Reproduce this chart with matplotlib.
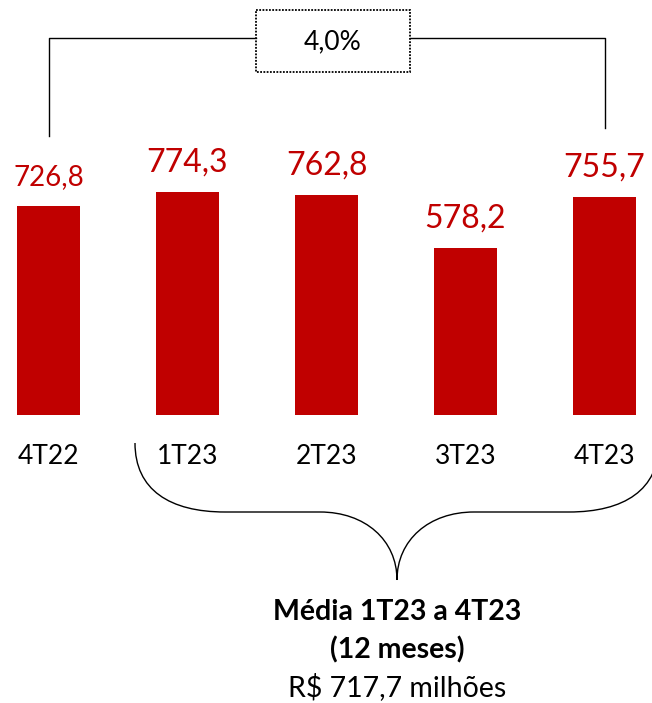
import numpy as np
import matplotlib
matplotlib.use("Agg")
from matplotlib import pyplot as plt
from matplotlib.path import Path
from matplotlib.patches import PathPatch, Rectangle
from matplotlib.transforms import blended_transform_factory

plt.rcParams['font.family'] = ['Lato', 'DejaVu Sans']

# data
categories = ['4T22', '1T23', '2T23', '3T23', '4T23']
values = [726.8, 774.3, 762.8, 578.2, 755.7]
value_labels = ['726,8', '774,3', '762,8', '578,2', '755,7']
growth_label = '4,0%'
note_lines = ['Média 1T23 a 4T23', '(12 meses)', 'R$ 717,7 milhões']

RED = '#C00000'
W, H = 652, 703
fig = plt.figure(figsize=(W / 100, H / 100), dpi=100)

# bar axes: x unit = 139 px, first bar centre at 48.5 px; baseline at 415 px from top
step = 139.0
x0 = 48.5
base = 415
ppu = 0.288  # pixels per value unit
ax = fig.add_axes([0, (H - base) / H, 1, base / H])
ax.set_xlim(-x0 / step, (W - x0) / step)
ax.set_ylim(0, base / ppu)
ax.axis('off')

xs = np.arange(len(categories))
ax.bar(xs, values, width=0.45, color=RED)

sizes = [20, 23, 23, 23, 23]
for x, v, lab, fs in zip(xs, values, value_labels, sizes):
    ax.annotate(lab, (x, v), xytext=(0, 15), textcoords='offset points',
                ha='center', va='baseline', color=RED, fontsize=fs)

# overlay in pixel coordinates
ov = fig.add_axes([0, 0, 1, 1], zorder=5)
ov.set_xlim(0, W)
ov.set_ylim(H, 0)
ov.axis('off')
ov.patch.set_visible(False)

tr = blended_transform_factory(ax.transData, ov.transData)
for x, c in zip(xs, categories):
    ov.text(x, 456, c, transform=tr, ha='center', va='center', fontsize=19, color='black')

# growth bracket
lx = x0
rx = x0 + 4 * step
ov.plot([lx, lx, 256], [136, 38, 38], color='black', lw=1)
ov.plot([410, rx, rx], [38, 38, 128], color='black', lw=1)
ov.add_patch(Rectangle((256, 10), 154, 62, fill=False, ec='black', lw=1.3, ls=(0, (1, 0.8))))
ov.text(333, 42, growth_label, ha='center', va='center', fontsize=19)

# curly brace under 1T23..4T23
tip = 397
verts = [(135, 443), (135, 490), (170, 512), (225, 512),
         (320, 512), (365, 512), (tip, 540), (tip, 580),
         (tip, 540), (2 * tip - 365, 512), (2 * tip - 320, 512),
         (2 * tip - 225, 512), (2 * tip - 170, 512), (2 * tip - 135, 490), (2 * tip - 135, 443)]
codes = [Path.MOVETO, Path.CURVE4, Path.CURVE4, Path.CURVE4,
         Path.LINETO, Path.CURVE4, Path.CURVE4, Path.CURVE4,
         Path.CURVE4, Path.CURVE4, Path.CURVE4,
         Path.LINETO, Path.CURVE4, Path.CURVE4, Path.CURVE4]
ov.add_patch(PathPatch(Path(verts, codes), fill=False, ec='black', lw=1))

ov.text(tip, 612, note_lines[0], ha='center', va='center', fontsize=20.5, fontweight='bold')
ov.text(tip, 650, note_lines[1], ha='center', va='center', fontsize=20.5, fontweight='bold')
ov.text(tip, 687, note_lines[2], ha='center', va='center', fontsize=20.5)

fig.savefig('out.png', dpi=100)
